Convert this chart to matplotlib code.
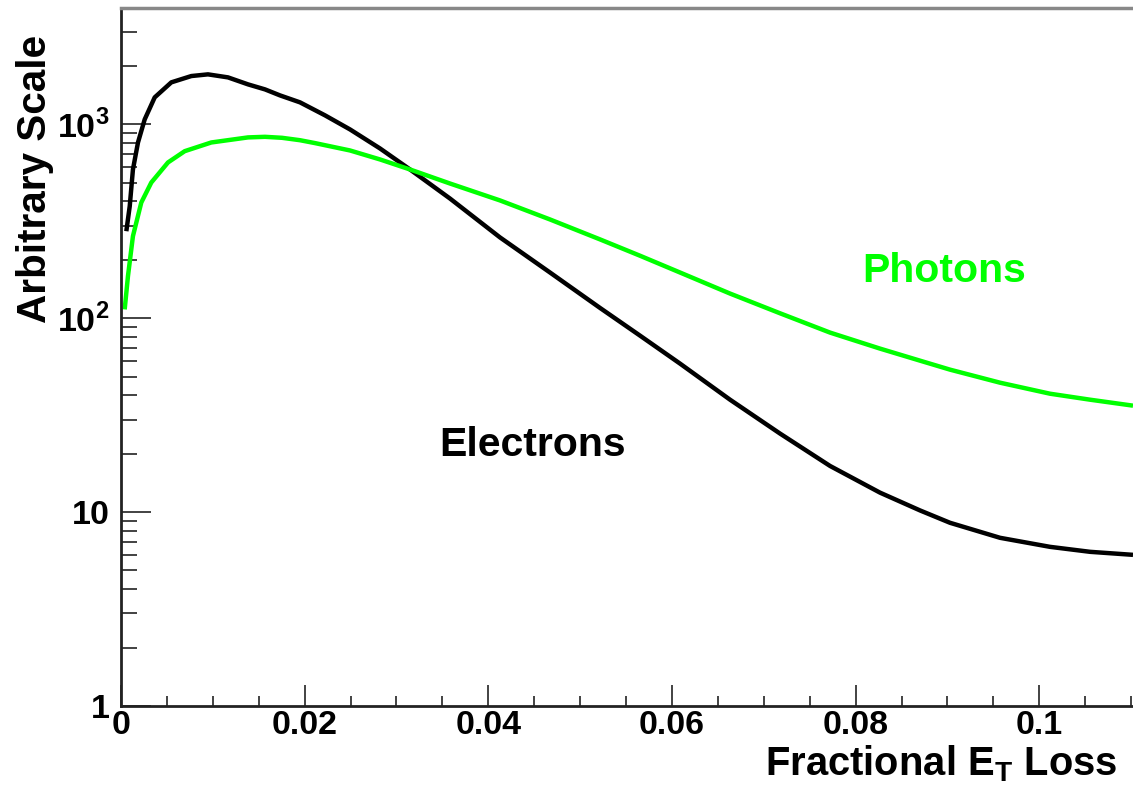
import numpy as np
import matplotlib
matplotlib.use('Agg')
import matplotlib.pyplot as plt
from matplotlib.ticker import FixedLocator, FixedFormatter, MultipleLocator, LogLocator, NullFormatter

plt.rcParams['font.family'] = ['Liberation Sans', 'DejaVu Sans']
plt.rcParams['mathtext.fontset'] = 'custom'
plt.rcParams['mathtext.rm'] = 'Liberation Sans'
plt.rcParams['mathtext.bf'] = 'Liberation Sans:bold'


# ###########################################################################
# Curves (x = fractional E_T loss, y = arbitrary scale)
electrons_x = [0.00058, 0.00095, 0.0013, 0.00185, 0.00258, 0.00367, 0.00548, 0.00766,
               0.00947, 0.01165, 0.01383, 0.01568, 0.01731, 0.01949, 0.02222, 0.02494,
               0.0282, 0.03147, 0.03583, 0.04127, 0.04672, 0.05216, 0.05652, 0.06088,
               0.06632, 0.07177, 0.07721, 0.08265, 0.08701, 0.09027, 0.09572, 0.10116,
               0.10552, 0.1102]
electrons_y = [281, 378, 585, 806, 1060, 1377, 1646, 1774,
               1810, 1746, 1607, 1514, 1410, 1298, 1112, 941,
               751, 585, 414, 261, 172, 113, 81.3, 58.3,
               38.0, 25.4, 17.3, 12.6, 10.2, 8.81, 7.37, 6.62,
               6.24, 6.02]

photons_x = [0.0004, 0.00076, 0.0013, 0.00221, 0.0033, 0.00512, 0.00694, 0.00983,
             0.01383, 0.01568, 0.01753, 0.01949, 0.02113, 0.02494, 0.0282, 0.03147,
             0.03583, 0.04127, 0.04672, 0.05216, 0.05652, 0.06088, 0.06632, 0.07177,
             0.07721, 0.08265, 0.08701, 0.09027, 0.09572, 0.10116, 0.10552, 0.1102]
photons_y = [111, 165, 265, 395, 501, 636, 727, 806,
             856, 862, 852, 828, 800, 733, 659, 585,
             495, 405, 323, 255, 210, 172, 134, 106,
             84.3, 69.7, 60.4, 54.3, 46.5, 40.8, 38.0, 35.4]

ytick_vals = [1, 10, 100, 1000]
ytick_labels = ['1', '10', r'$\mathbf{10}^{\mathbf{2}}$', r'$\mathbf{10}^{\mathbf{3}}$']
xtick_vals = [0, 0.02, 0.04, 0.06, 0.08, 0.1]
xtick_labels = ['0', '0.02', '0.04', '0.06', '0.08', '0.1']

xlim = [0, 0.1102]
ylim = [1, 3980]


# ###########################################################################
fig = plt.figure(figsize=(11.33, 7.88), dpi=100)
ax = fig.add_axes([121/1133, 82/788, 1012/1133, 698/788])

ax.plot(electrons_x, electrons_y, color='black', lw=3.2, solid_capstyle='butt')
ax.plot(photons_x, photons_y, color='#00ff00', lw=3.2, solid_capstyle='butt')

ax.set_yscale('log')
ax.set_xlim(xlim)
ax.set_ylim(ylim)

ax.yaxis.set_major_locator(FixedLocator(ytick_vals))
ax.yaxis.set_major_formatter(FixedFormatter(ytick_labels))
ax.yaxis.set_minor_locator(LogLocator(base=10, subs=np.arange(2, 10)))
ax.yaxis.set_minor_formatter(NullFormatter())
ax.xaxis.set_major_locator(FixedLocator(xtick_vals))
ax.xaxis.set_major_formatter(FixedFormatter(xtick_labels))
ax.xaxis.set_minor_locator(MultipleLocator(0.005))

ax.tick_params(axis='both', which='both', direction='in', width=1.2, color='#222222',
               top=False, right=False, labelsize=24.5)
ax.tick_params(axis='x', which='major', length=15, pad=3)
ax.tick_params(axis='x', which='minor', length=7.5)
ax.tick_params(axis='y', which='major', length=21.5, pad=8)
ax.tick_params(axis='y', which='minor', length=11.5)
for lab in ax.get_xticklabels() + ax.get_yticklabels():
    lab.set_fontweight('bold')

for s in ['left', 'bottom']:
    ax.spines[s].set_linewidth(2.0)
    ax.spines[s].set_color('#222222')
ax.spines['top'].set_linewidth(2.5)
ax.spines['top'].set_color('#888888')
ax.spines['right'].set_visible(False)

ax.set_xlabel(r'Fractional E$_{\mathbf{T}}$ Loss', fontsize=28.8, fontweight='bold', loc='right')
ax.xaxis.set_label_coords(0.985, -0.054)
ax.set_ylabel('Arbitrary Scale', fontsize=29.2, fontweight='bold', loc='top')
ax.yaxis.set_label_coords(-0.066, 0.961)

ax.text(0.0347, 19.5, 'Electrons', fontsize=29.5, fontweight='bold', color='black',
        ha='left', va='baseline')
ax.text(0.0807, 154, 'Photons', fontsize=29.5, fontweight='bold', color='#00ff00',
        ha='left', va='baseline')

fig.savefig('out.png', dpi=100)
plt.close(fig)
